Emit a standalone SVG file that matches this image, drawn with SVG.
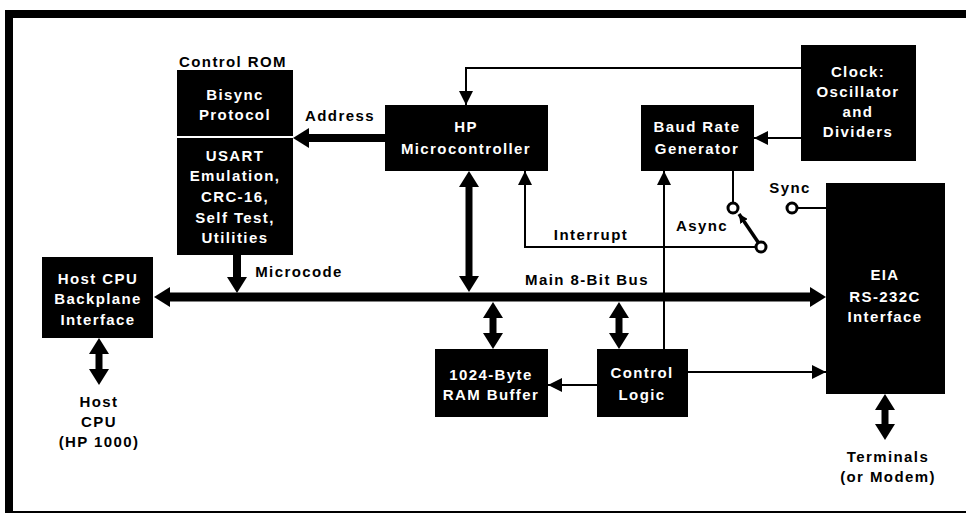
<svg xmlns="http://www.w3.org/2000/svg" width="966" height="515" viewBox="0 0 966 515">
<style>
.box{fill:#000}
.t{font-family:"Liberation Sans",Arial,Helvetica,sans-serif;font-weight:bold;font-size:15px;letter-spacing:1.4px;text-anchor:middle}
.w{fill:#fff}
.k{fill:#000}
.thin{fill:none;stroke:#000;stroke-width:2}
.thick{fill:none;stroke:#000;stroke-width:8}
.circ{fill:#fff;stroke:#000;stroke-width:3}
</style>
<defs>
<marker id="a" viewBox="0 0 14 14" markerWidth="14" markerHeight="14" refX="14" refY="7" orient="auto" markerUnits="userSpaceOnUse"><path d="M0,0 L14,7 L0,14 z" fill="#000"/></marker>
<marker id="b" viewBox="0 0 16 20" markerWidth="16" markerHeight="20" refX="8" refY="10" orient="auto-start-reverse" markerUnits="userSpaceOnUse"><path d="M0,0 L16,10 L0,20 z" fill="#000"/></marker>
<marker id="c" viewBox="0 0 9 9" markerWidth="9" markerHeight="9" refX="9" refY="4.5" orient="auto" markerUnits="userSpaceOnUse"><path d="M0,0 L9,4.5 L0,9 z" fill="#000"/></marker>
</defs>
<rect width="966" height="515" fill="#fff"/>
<g id="frame">
<path d="M9,513 V14 H966" fill="none" stroke="#000" stroke-width="8"/>
<path d="M9,512 H966" fill="none" stroke="#000" stroke-width="2"/>
</g>
<g id="connectors">
<path class="thin" d="M801,68 H466 V105" marker-end="url(#a)"/>
<path class="thin" d="M801,138 H754" marker-end="url(#a)"/>
<path class="thin" d="M756,247 H525 V171" marker-end="url(#a)"/>
<path class="thin" d="M664,349 V171" marker-end="url(#a)"/>
<path class="thin" d="M733,171 V203"/>
<path class="thin" d="M797,208 H826"/>
<path class="thin" d="M597,385 H548" marker-end="url(#a)"/>
<path class="thin" d="M688,372 H826" marker-end="url(#a)"/>
<path class="thick" d="M385,138 H301" marker-end="url(#b)"/>
<path class="thick" d="M237,254 V285" marker-end="url(#b)"/>
<path class="thick" style="stroke-width:9" d="M162,297 H818" marker-start="url(#b)" marker-end="url(#b)"/>
<path class="thick" style="stroke-width:7" d="M469,179 V284" marker-start="url(#b)" marker-end="url(#b)"/>
<path class="thick" style="stroke-width:7" d="M493,310 V341" marker-start="url(#b)" marker-end="url(#b)"/>
<path class="thick" style="stroke-width:7" d="M619,310 V341" marker-start="url(#b)" marker-end="url(#b)"/>
<path class="thick" style="stroke-width:7" d="M99,346 V377" marker-start="url(#b)" marker-end="url(#b)"/>
<path class="thick" style="stroke-width:7" d="M885,402 V432" marker-start="url(#b)" marker-end="url(#b)"/>
<path d="M760,245 L739,214" fill="none" stroke="#000" stroke-width="3.5" marker-end="url(#c)"/>
<circle class="circ" cx="733" cy="208" r="5"/>
<circle class="circ" cx="761" cy="247" r="5"/>
<circle class="circ" cx="792" cy="208" r="5"/>
</g>
<g id="labels">
<text class="t k" x="340" y="121">Address</text>
<text class="t k" x="299" y="277">Microcode</text>
<text class="t k" x="587" y="285">Main 8-Bit Bus</text>
<text class="t k" x="591" y="240">Interrupt</text>
<text class="t k" x="702" y="231">Async</text>
<text class="t k" x="790" y="193">Sync</text>
</g>
<g id="control-rom">
<text class="t k" x="233" y="67">Control ROM</text>
<rect class="box" x="177" y="70" width="116" height="185"/>
<line x1="177" y1="137" x2="293" y2="137" stroke="#fff" stroke-width="2"/>
<text class="t w" x="235" y="100">Bisync</text>
<text class="t w" x="235" y="120">Protocol</text>
<text class="t w" x="235" y="161">USART</text>
<text class="t w" x="235" y="181">Emulation,</text>
<text class="t w" x="235" y="202">CRC-16,</text>
<text class="t w" x="235" y="223">Self Test,</text>
<text class="t w" x="235" y="243">Utilities</text>
</g>
<g id="hp-microcontroller">
<rect class="box" x="385" y="105" width="163" height="66"/>
<text class="t w" x="466" y="132">HP</text>
<text class="t w" x="466" y="154">Microcontroller</text>
</g>
<g id="baud-rate-generator">
<rect class="box" x="641" y="105" width="113" height="66"/>
<text class="t w" x="697" y="132">Baud Rate</text>
<text class="t w" x="697" y="154">Generator</text>
</g>
<g id="clock">
<rect class="box" x="801" y="45" width="115" height="116"/>
<text class="t w" x="858" y="77">Clock:</text>
<text class="t w" x="858" y="97">Oscillator</text>
<text class="t w" x="858" y="117">and</text>
<text class="t w" x="858" y="137">Dividers</text>
</g>
<g id="host-cpu-backplane-interface">
<rect class="box" x="42" y="257" width="111" height="81"/>
<text class="t w" x="98" y="284">Host CPU</text>
<text class="t w" x="98" y="304">Backplane</text>
<text class="t w" x="98" y="325">Interface</text>
</g>
<g id="host-cpu">
<text class="t k" x="99" y="407">Host</text>
<text class="t k" x="99" y="427">CPU</text>
<text class="t k" x="99" y="447">(HP 1000)</text>
</g>
<g id="ram-buffer">
<rect class="box" x="435" y="349" width="113" height="68"/>
<text class="t w" x="491" y="380">1024-Byte</text>
<text class="t w" x="491" y="400">RAM Buffer</text>
</g>
<g id="control-logic">
<rect class="box" x="597" y="349" width="91" height="68"/>
<text class="t w" x="642" y="378">Control</text>
<text class="t w" x="642" y="400">Logic</text>
</g>
<g id="eia-interface">
<rect class="box" x="826" y="183" width="119" height="211"/>
<text class="t w" x="885" y="280">EIA</text>
<text class="t w" x="885" y="302">RS-232C</text>
<text class="t w" x="885" y="322">Interface</text>
</g>
<g id="terminals">
<text class="t k" x="888" y="462">Terminals</text>
<text class="t k" x="888" y="482">(or Modem)</text>
</g>
</svg>
